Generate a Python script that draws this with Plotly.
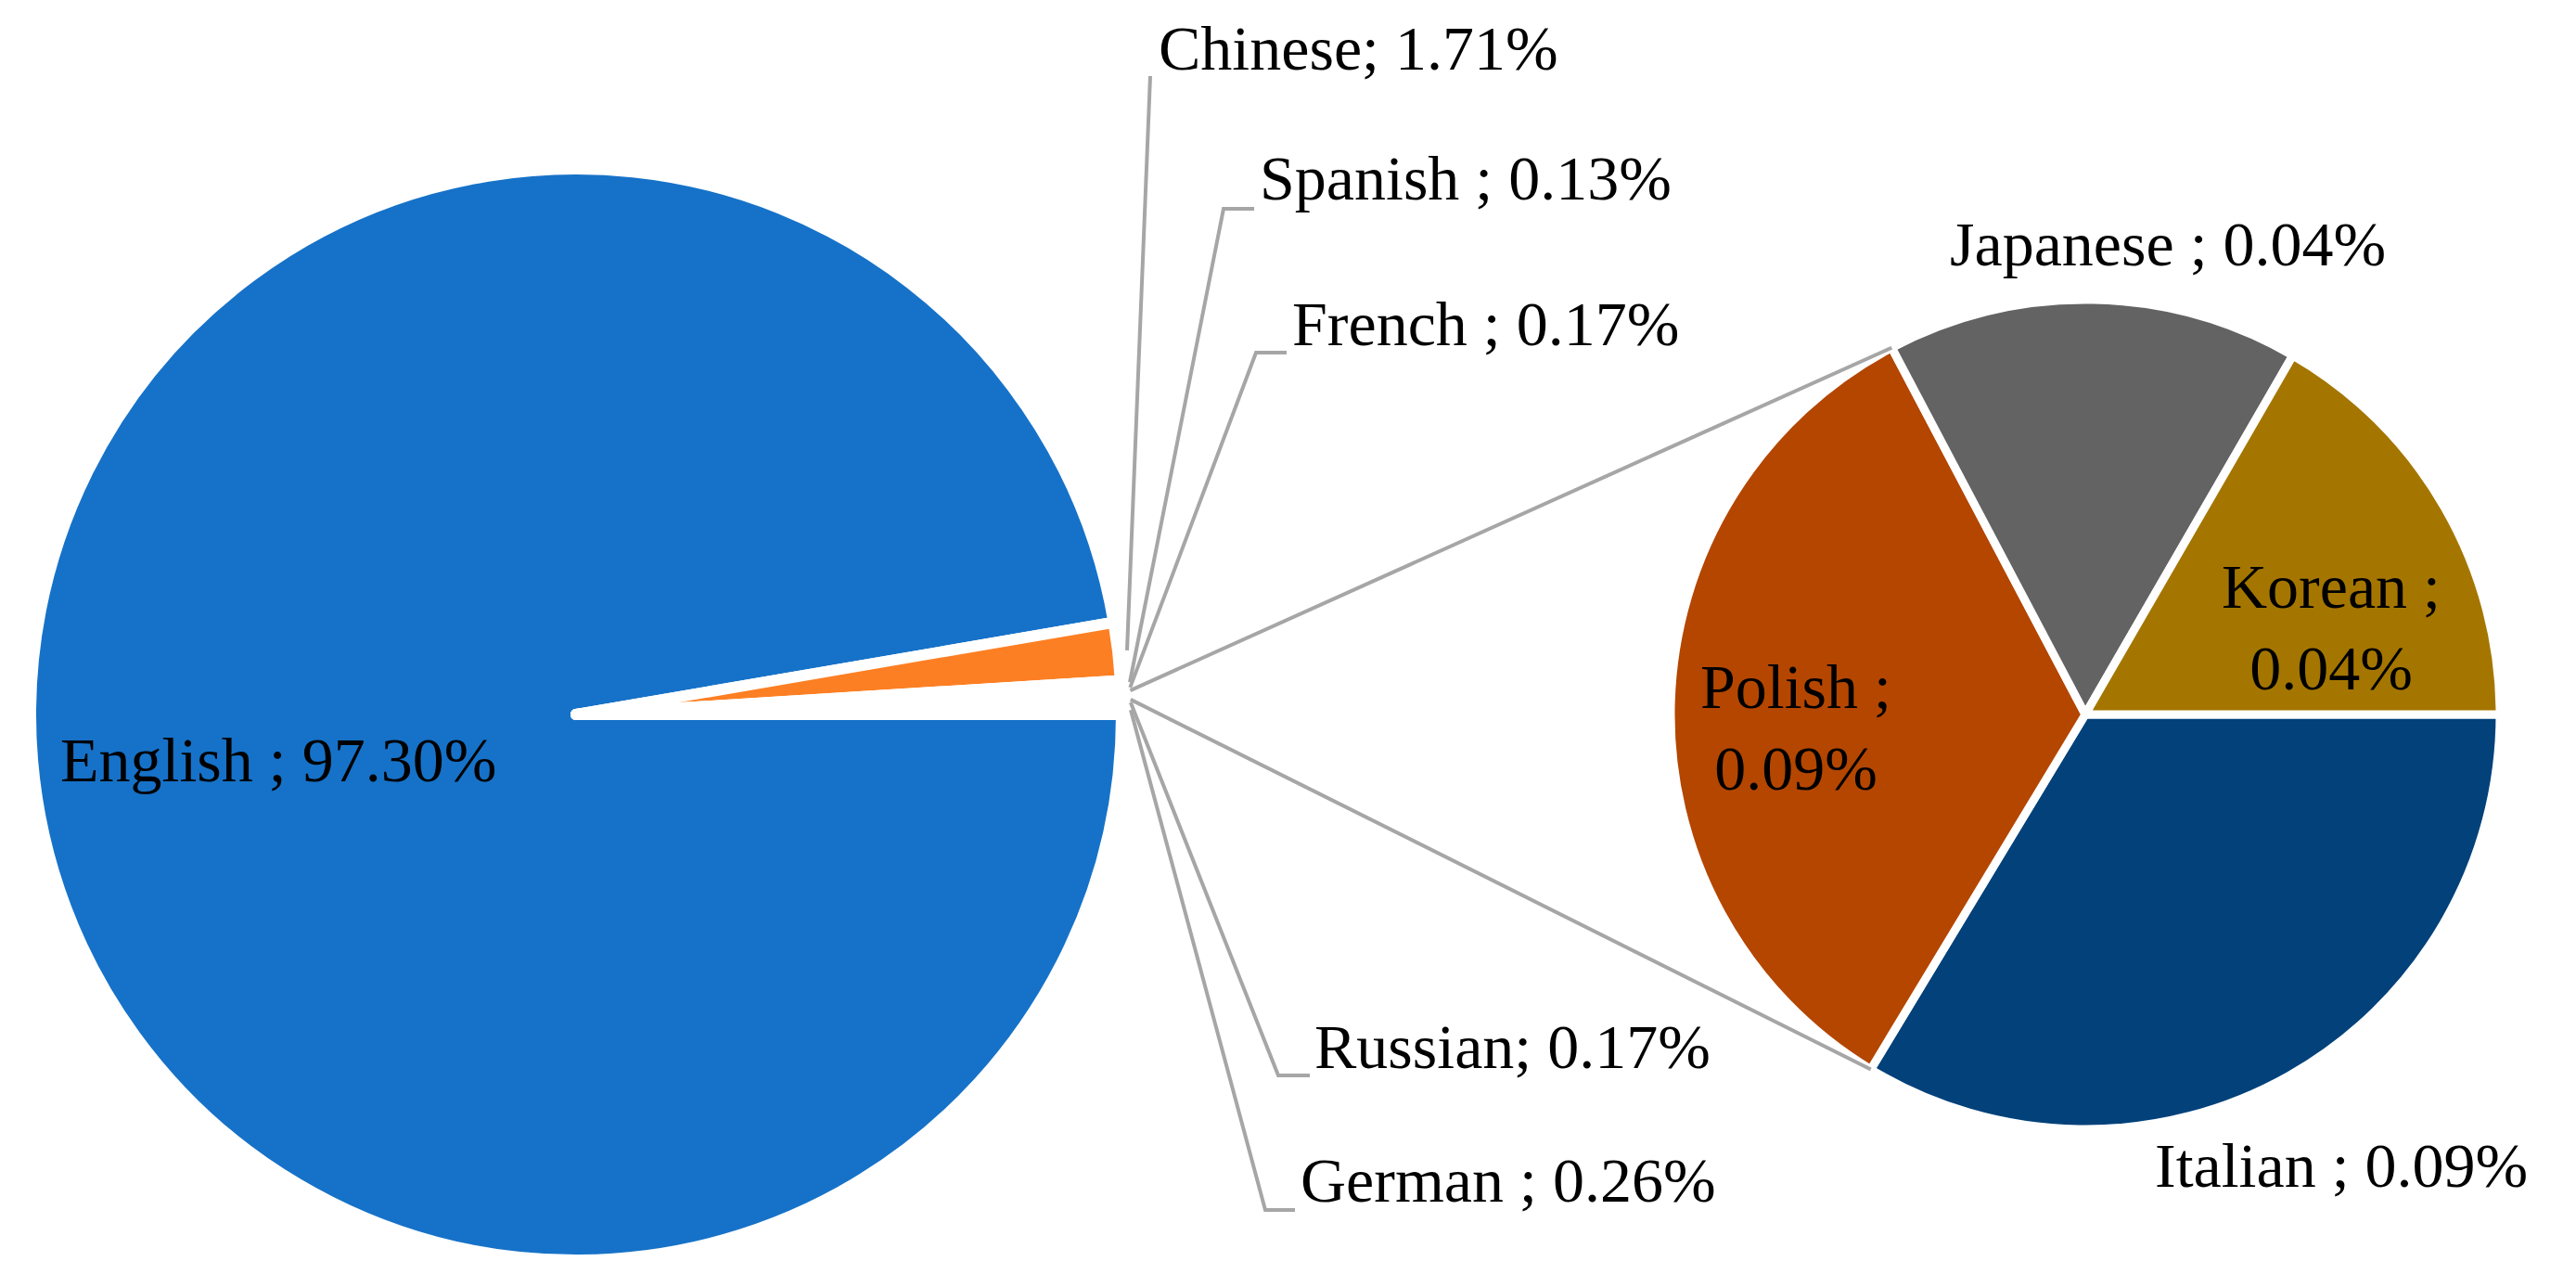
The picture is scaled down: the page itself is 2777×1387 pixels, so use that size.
import math
import plotly.graph_objects as go

# grafico principal (pie of pie: "Other" e detalhado no grafico da direita)
idiomas = ["English", "Chinese", "Spanish", "French", "Other", "Russian", "German"]
percentuais = [97.30, 1.71, 0.13, 0.17, 0.26, 0.17, 0.26]
separadores = [" ; ", "; ", " ; ", " ; ", "", "; ", " ; "]
cores = ["#1672C8", "#FD7F23", "#A5A5A5", "#FFC000", "#FFFFFF", "#5B9BD5", "#70AD47"]

# grafico secundario (valores estimados pelos angulos, rotulos arredondados)
idiomas_outros = ["Italian", "Polish", "Japanese", "Korean"]
percentuais_outros = [0.0875, 0.0874, 0.0418, 0.0433]
separadores_outros = [" ; ", " ;<br>", " ; ", " ;<br>"]
cores_outros = ["#02417A", "#B44600", "#636363", "#A47600"]

W, H = 2777, 1387
FONTE = dict(family="Liberation Serif", size=68, color="black")
CINZA = "#A6A6A6"

# centros e raios em pixels
cx1, cy1, r1 = 613, 762, 588
cx2, cy2, r2 = 2240, 762, 447


def dominio(cx, cy, r):
    return dict(x=[(cx - r) / W, (cx + r) / W], y=[(H - cy - r) / H, (H - cy + r) / H])


def px(x):
    return x / W


def py(y):
    return 1 - y / H


def ponto(cx, cy, r, ang):
    a = math.radians(ang)
    return cx + r * math.cos(a), cy - r * math.sin(a)


def angulos_horario(nomes, valores):
    # fatias no sentido horario a partir das 3 horas (graus matematicos)
    tot = sum(valores)
    res = {}
    acum = 0
    for nome, p in zip(nomes, valores):
        ini = -360 * acum / tot
        res[nome] = (ini, ini - 360 * p / tot)
        acum += p
    return res


angulos = angulos_horario(idiomas, percentuais)
angulos2 = angulos_horario(idiomas_outros, percentuais_outros)

fig = go.Figure()
fig.add_trace(go.Pie(labels=idiomas, values=percentuais, sort=False, direction="clockwise",
                     rotation=90, textinfo="none", hoverinfo="label+percent",
                     marker=dict(colors=cores, line=dict(color="white", width=12)),
                     domain=dominio(cx1, cy1, r1), showlegend=False))
fig.add_trace(go.Pie(labels=idiomas_outros, values=percentuais_outros, sort=False,
                     direction="clockwise", rotation=90, textinfo="none",
                     hoverinfo="label+percent",
                     marker=dict(colors=cores_outros, line=dict(color="white", width=9)),
                     domain=dominio(cx2, cy2, r2), showlegend=False))

shapes = []


def linha(pts):
    caminho = "M " + " L ".join(f"{px(x):.5f},{py(y):.5f}" for x, y in pts)
    shapes.append(dict(type="path", path=caminho, xref="paper", yref="paper",
                       line=dict(color=CINZA, width=4)))


# linhas de serie entre "Other" e o grafico secundario
o_ini, o_fim = angulos["Other"]
p_ini, p_fim = angulos2["Polish"]
linha([ponto(cx1, cy1, r1 + 10, o_ini), ponto(cx2, cy2, r2, p_fim)])
linha([ponto(cx1, cy1, r1 + 10, o_fim), ponto(cx2, cy2, r2, p_ini)])

# rotulos externos com linhas de chamada (cotovelo, fim horizontal, x e y do rotulo)
chamadas = {
    "Chinese": ((1232, 74), None, 1239, 44),
    "Spanish": ((1311, 217), 1344, 1348, 184),
    "French": ((1346, 372), 1379, 1383, 341),
    "Russian": ((1370, 1151), 1404, 1407, 1120),
    "German": ((1356, 1296), 1388, 1392, 1264),
}
anotacoes = []
for nome, p, sep in zip(idiomas, percentuais, separadores):
    texto = f"{nome}{sep}{p:.2f}%"
    if nome in chamadas:
        cot, xh, xl, yl = chamadas[nome]
        a = sum(angulos[nome]) / 2
        pts = [ponto(cx1, cy1, r1 + 10, a), cot]
        if xh:
            pts.append((xh, cot[1]))
        linha(pts)
        anotacoes.append(dict(x=px(xl), y=py(yl), text=texto, xanchor="left"))
    elif nome == "English":
        anotacoes.append(dict(x=px(292), y=py(811), text=texto, xanchor="center"))

pos_outros = {
    "Korean": (2505, 668, "center"),
    "Japanese": (2092, 255, "left"),
    "Polish": (1928, 776, "center"),
    "Italian": (2313, 1248, "left"),
}
for nome, p, sep in zip(idiomas_outros, percentuais_outros, separadores_outros):
    x, y, anc = pos_outros[nome]
    anotacoes.append(dict(x=px(x), y=py(y), text=f"{nome}{sep}{p:.2f}%", xanchor=anc))

for a in anotacoes:
    a.update(xref="paper", yref="paper", yanchor="middle", showarrow=False, font=FONTE)

fig.update_layout(width=W, height=H, margin=dict(l=0, r=0, t=0, b=0),
                  paper_bgcolor="white", plot_bgcolor="white",
                  shapes=shapes, annotations=anotacoes)
fig.write_html("out.html")
